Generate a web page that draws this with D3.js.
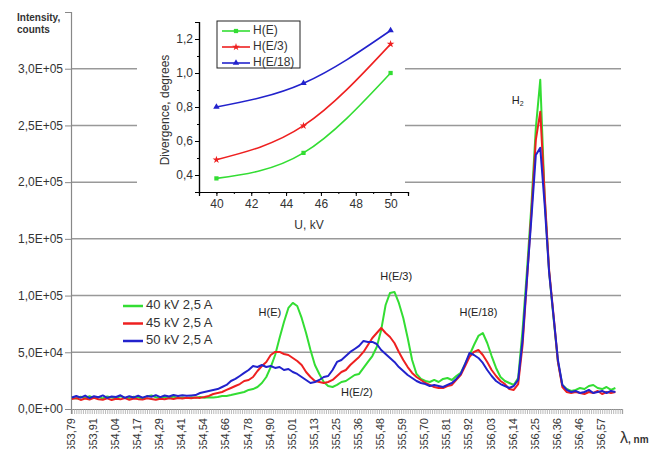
<!DOCTYPE html>
<html>
<head>
<meta charset="utf-8">
<script src="https://cdn.jsdelivr.net/npm/d3@7"></script>
<style>
body { margin: 0; background: #fff; }
svg { font-family: "Liberation Sans", Arial, sans-serif; }
</style>
</head>
<body>
<svg width="669" height="449"></svg>
<script>
// wavelength labels, one per 5 samples
let waveLabels = ['653,79','653,91','654,04','654,17','654,29','654,41','654,54','654,66','654,78','654,90',
  '655,01','655,13','655,25','655,36','655,48','655,59','655,70','655,81','655,92','656,03',
  '656,14','656,25','656,36','656,46','656,57'];

// intensity in thousands of counts, one value per sample
let kv40 = [10.0, 9.2, 10.8, 9.6, 11.2, 9.8, 10.5, 9.4, 11.0, 10.2, 9.5, 11.3, 10.0, 9.6, 10.8, 10.1, 9.3, 11.1, 12.0, 10.4,
  9.7, 10.6, 9.9, 10.9, 9.8, 10.2, 9.6, 10.3, 9.9, 10.5, 10.0, 10.4, 10.2,
  10.6, 11.5, 11.5, 12.3, 13.2, 14.1, 15.0, 16.8, 17.6, 19.4, 22.9, 28.2, 37.0, 47.6, 62.6, 76.7, 89.1,
  93.5, 90.8, 80.3, 67.0, 52.0, 38.8, 30.9, 23.8, 20.3, 19.4,
  21.2, 23.8, 24.7, 27.3, 30.0, 30.9, 36.2, 41.5, 46.7, 54.7,
  69.7, 91.7, 102.3, 103.2, 93.5, 80.3, 62.6, 43.2, 30.9, 26.5,
  24.7, 23.8, 25.6, 23.8, 26.5, 27.3, 25.6, 29.1, 31.8, 39.7,
  47.6, 56.4, 64.4, 67.0, 58.2, 46.7, 36.2, 28.2, 24.7, 22.9,
  21.2, 27.3, 69.7, 122.6, 179.9, 247.8, 290.2, 186.1, 120.8, 80.3,
  41.5, 21.2, 17.6, 15.9,
  16.8, 18.5, 17.6, 20.3, 21.2, 18.5, 17.6, 19.4, 16.8, 18.5];
let kv45 = [8.8, 9.6, 8.0, 9.2, 8.4, 9.8, 8.6, 8.2, 9.4, 7.9, 9.0, 8.5, 9.6, 8.1, 9.3, 8.7, 8.3, 9.5, 8.9, 8.2,
  9.1, 8.6, 9.4, 8.8, 9.7, 9.2, 9.9, 9.5, 10.2, 9.8,
  10.6, 11.5, 13.2, 14.1, 15.0, 16.8, 18.5, 20.3, 22.0, 24.7,
  25.6, 28.2, 33.5, 37.9, 41.5, 47.6, 50.3, 50.3, 48.5, 47.6,
  45.0, 42.3, 38.8, 32.6, 28.2, 24.7, 23.8, 22.9, 23.8, 25.6,
  29.1, 32.6, 34.4, 38.8, 42.3, 45.9, 50.3, 56.4, 62.6, 67.0,
  71.4, 67.0, 63.5, 58.2, 50.3, 43.2, 37.0, 31.8, 28.2, 25.6,
  22.9, 21.2, 19.4, 18.5, 18.5, 20.3, 21.2, 25.6, 30.0, 37.9,
  45.9, 50.3, 52.0, 47.6, 41.5, 34.4, 29.1, 24.7, 22.0, 17.6,
  16.8, 22.0, 56.4, 113.8, 173.8, 237.3, 262.0, 188.7, 122.6, 82.9,
  41.5, 19.4, 15.0, 14.1,
  15.0, 14.1, 13.2, 15.0, 14.1, 15.9, 13.2, 15.0, 14.1, 15.0];
let kv50 = [10.2, 11.5, 10.0, 11.8, 9.6, 11.2, 10.4, 12.0, 9.8, 11.0, 10.6, 12.1, 9.9, 11.3, 10.2, 11.7, 10.0, 11.4, 10.8, 12.2,
  10.5, 11.9, 11.0, 12.4, 11.4, 12.2, 11.6, 12.0, 12.3, 14.1,
  15.0, 15.9, 16.8, 17.6, 19.4, 21.2, 24.7, 26.5, 29.1, 31.8,
  34.4, 37.9, 37.0, 38.8, 37.0, 37.9, 36.2, 37.0, 34.4, 35.3,
  32.6, 30.9, 28.2, 25.6, 22.9, 23.8, 25.6, 28.2, 29.1, 34.4,
  41.5, 43.2, 46.7, 50.3, 52.9, 55.6, 60.0, 59.1, 59.1, 57.3,
  52.0, 48.5, 45.0, 41.5, 37.0, 33.5, 30.0, 27.3, 24.7, 22.9,
  22.0, 20.3, 21.2, 20.3, 19.4, 21.2, 22.9, 26.5, 30.9, 39.7,
  49.4, 47.6, 45.0, 40.6, 34.4, 29.1, 24.7, 22.0, 20.3, 18.5,
  20.3, 25.6, 60.9, 115.5, 168.5, 224.0, 230.2, 179.9, 120.8, 82.0,
  43.2, 21.2, 16.8, 15.0,
  15.9, 14.1, 15.0, 16.8, 14.1, 15.0, 15.9, 14.1, 15.9, 15.0];

let seriesNames = ['40 kV 2,5 A', '45 kV 2,5 A', '50 kV 2,5 A'];
let colors = ['#33dd33', '#ee2020', '#2222cc'];

let yTicks = [0, 50, 100, 150, 200, 250, 300, 350];
let yTickLabels = ['0,0E+00', '5,0E+04', '1,0E+05', '1,5E+05', '2,0E+05', '2,5E+05', '3,0E+05', ''];

// peak annotations: [sample index, intensity]
let peakNames = ['H(E)', 'H(E/2)', 'H(E/3)', 'H(E/18)', 'H'];
let peakPos = [[44.8, 84.7], [64.5, 14.1], [73.4, 116.4], [92.0, 84.7], [100.9, 271.6]];

// inset: divergence vs voltage
let voltage = [40, 45, 50];
let divE = [0.38, 0.53, 1.0];
let divE3 = [0.49, 0.69, 1.17];
let divE18 = [0.80, 0.94, 1.25];
let insetNames = ['H(E)', 'H(E/3)', 'H(E/18)'];
let insetXTicks = [40, 42, 44, 46, 48, 50];
let insetYTicks = [0.4, 0.6, 0.8, 1.0, 1.2];

let svg = d3.select('svg');
let txt = '#333';
let gridCol = '#999';

// ---------- main chart ----------
let xScale = d3.scaleLinear().domain([-0.2, 124.5]).range([71, 622]);
let yScale = d3.scaleLinear().domain([0, 350]).range([409, 12]);

// grid lines
svg.append('g').selectAll('line')
  .data(yTicks.slice(1, 7))
  .enter().append('line')
  .attr('x1', 71).attr('x2', 621)
  .attr('y1', d => yScale(d)).attr('y2', d => yScale(d))
  .attr('stroke', gridCol).attr('stroke-width', 1.5);

// y axis
let yAxis = d3.axisLeft(yScale)
  .tickValues(yTicks)
  .tickSize(6)
  .tickPadding(2)
  .tickFormat((d, i) => yTickLabels[i]);
let yG = svg.append('g').attr('transform', 'translate(71,0)').call(yAxis);
yG.select('.domain').attr('stroke', '#888');
yG.selectAll('line').attr('stroke', '#888');
yG.selectAll('text').attr('fill', txt).style('font-size', '12px');

// x axis: dense ticks, then labels
let minorTicks = d3.range(0, 124.6, 0.5);
let xAxis = d3.axisBottom(xScale).tickValues(minorTicks).tickSize(5).tickFormat('');
let xG = svg.append('g').attr('transform', 'translate(0,409)').call(xAxis);
xG.select('.domain').attr('stroke', '#888');
xG.selectAll('line').attr('stroke', '#aaa').attr('stroke-width', 0.8);

svg.append('g').selectAll('text')
  .data(waveLabels)
  .enter().append('text')
  .attr('transform', (d, i) => 'translate(' + xScale(i * 5) + ',418) rotate(-90)')
  .attr('text-anchor', 'end')
  .attr('dominant-baseline', 'middle')
  .attr('fill', txt)
  .style('font-size', '11px')
  .text(d => d);

// axis titles
svg.append('text').attr('x', 17).attr('y', 21).attr('fill', txt)
  .style('font-size', '10px').style('font-weight', 'bold').text('Intensity,');
svg.append('text').attr('x', 17).attr('y', 33).attr('fill', txt)
  .style('font-size', '10px').style('font-weight', 'bold').text('counts');
let lam = svg.append('text').attr('x', 620).attr('y', 443).attr('fill', txt);
lam.append('tspan').style('font-size', '16px').text('λ');
lam.append('tspan').style('font-size', '10px').style('font-weight', 'bold').text(', nm');

// ---------- inset ----------
svg.append('rect').attr('x', 137).attr('y', 0).attr('width', 268).attr('height', 232).attr('fill', '#fff');

let ix = d3.scaleLinear().domain([39, 51]).range([199, 408]);
let iy = d3.scaleLinear().domain([0.3, 1.3]).range([192, 22]);

let ixMinor = d3.axisBottom(ix).tickValues(d3.range(39, 51.1, 1)).tickSize(2).tickFormat('');
svg.append('g').attr('transform', 'translate(0,192)').call(ixMinor);
let ixAxis = d3.axisBottom(ix).tickValues(insetXTicks).tickSize(4).tickPadding(3).tickFormat(d3.format('d'));
let ixG = svg.append('g').attr('transform', 'translate(0,192)').call(ixAxis);
ixG.selectAll('text').attr('fill', txt).style('font-size', '12px');

let iyMinor = d3.axisLeft(iy).tickValues(d3.range(0.3, 1.31, 0.1)).tickSize(2).tickFormat('');
svg.append('g').attr('transform', 'translate(199,0)').call(iyMinor);
let iyAxis = d3.axisLeft(iy).tickValues(insetYTicks).tickSize(4).tickPadding(2)
  .tickFormat(d => d3.format('.1f')(d).replace('.', ','));
let iyG = svg.append('g').attr('transform', 'translate(199,0)').call(iyAxis);
iyG.selectAll('text').attr('fill', txt).style('font-size', '12px');
svg.selectAll('.domain').attr('stroke-width', 1.2);

svg.append('text').attr('x', 309).attr('y', 229).attr('text-anchor', 'middle')
  .attr('fill', txt).style('font-size', '12px').text('U, kV');
svg.append('text').attr('transform', 'translate(169,110) rotate(-90)').attr('text-anchor', 'middle')
  .attr('fill', txt).style('font-size', '12px').text('Divergence, degrees');

let insetSeries = [divE, divE3, divE18];
let symbols = [d3.symbolSquare, d3.symbolStar, d3.symbolTriangle];
let iLine = d3.line().x((d, i) => ix(voltage[i])).y(d => iy(d)).curve(d3.curveNatural);
insetSeries.forEach((s, k) => {
  svg.append('path').datum(s).attr('d', iLine)
    .attr('fill', 'none').attr('stroke', colors[k]).attr('stroke-width', 1.6);
  svg.append('g').selectAll('path').data(s).enter().append('path')
    .attr('d', d3.symbol().type(symbols[k]).size(18))
    .attr('transform', (d, i) => 'translate(' + ix(voltage[i]) + ',' + iy(d) + ')')
    .attr('fill', colors[k]);
});

// inset legend
svg.append('rect').attr('x', 217).attr('y', 21).attr('width', 83).attr('height', 47)
  .attr('fill', '#fff').attr('stroke', '#222').attr('stroke-width', 1);
insetNames.forEach((n, k) => {
  let yy = 31 + k * 16;
  svg.append('line').attr('x1', 222).attr('x2', 250).attr('y1', yy).attr('y2', yy)
    .attr('stroke', colors[k]).attr('stroke-width', 1.6);
  svg.append('path').attr('d', d3.symbol().type(symbols[k]).size(18))
    .attr('transform', 'translate(236,' + yy + ')').attr('fill', colors[k]);
  svg.append('text').attr('x', 253).attr('y', yy).attr('dominant-baseline', 'middle')
    .attr('fill', txt).style('font-size', '12px').text(n);
});

// ---------- spectra ----------
let line = d3.line().x((d, i) => xScale(i)).y(d => yScale(d));
[kv40, kv45, kv50].forEach((s, k) => {
  svg.append('path').datum(s).attr('d', line)
    .attr('fill', 'none').attr('stroke', colors[k]).attr('stroke-width', 2)
    .attr('stroke-linejoin', 'round');
});

// main legend
seriesNames.forEach((n, k) => {
  let yy = 306 + k * 17.5;
  svg.append('line').attr('x1', 123).attr('x2', 143).attr('y1', yy).attr('y2', yy)
    .attr('stroke', colors[k]).attr('stroke-width', 2.5);
  svg.append('text').attr('x', 146).attr('y', yy).attr('dominant-baseline', 'middle')
    .attr('fill', txt).style('font-size', '13px').text(n);
});

// peak labels
svg.append('g').selectAll('text')
  .data(peakNames)
  .enter().append('text')
  .attr('x', (d, i) => xScale(peakPos[i][0]))
  .attr('y', (d, i) => yScale(peakPos[i][1]))
  .attr('text-anchor', 'middle')
  .attr('dominant-baseline', 'middle')
  .attr('fill', '#222')
  .style('font-size', '11px')
  .text(d => d)
  .filter(d => d === 'H')
  .append('tspan').attr('dy', 3).style('font-size', '7px').text('2');
</script>
</body>
</html>
